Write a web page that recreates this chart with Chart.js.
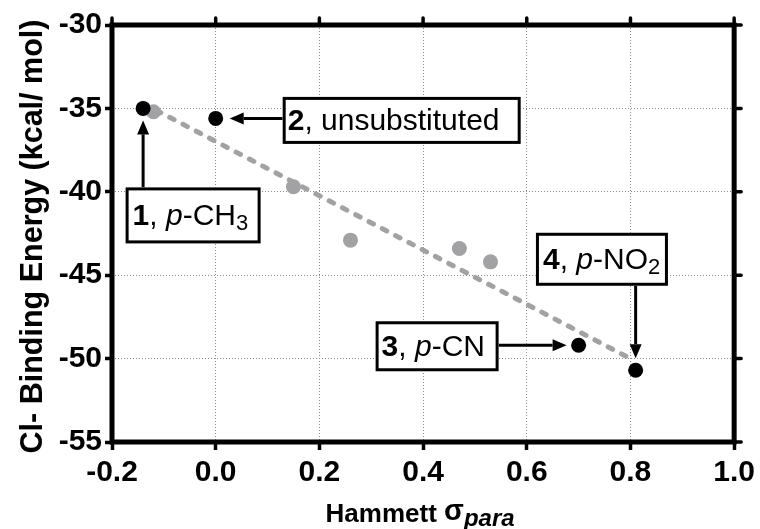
<!DOCTYPE html>
<html>
<head>
<meta charset="utf-8">
<script src="https://cdn.jsdelivr.net/npm/chart.js@4.4.1/dist/chart.umd.min.js"></script>
<style>
  html, body { margin: 0; padding: 0; background: #fff; }
  #wrap { width: 760px; height: 529px; }
</style>
</head>
<body>
<div id="wrap"><canvas id="c" width="760" height="529"></canvas></div>
<script>
// Labelled substituents (black markers): Hammett sigma_para vs Cl- binding energy, kcal/mol
const labelledSigma  = [-0.14, 0.00, 0.70, 0.81];
const labelledEnergy = [-35.0, -35.6, -49.2, -50.7];

// Remaining substituents (grey markers)
const otherSigma  = [-0.12, 0.15, 0.26, 0.47, 0.53];
const otherEnergy = [-35.2, -39.7, -42.9, -43.4, -44.2];

// Linear trend (end points)
const trendSigma  = [-0.14, 0.80];
const trendEnergy = [-34.7, -50.0];

// Axis ticks
const xTickValues = [-0.2, 0.0, 0.2, 0.4, 0.6, 0.8, 1.0];
const xTickLabels = ['-0.2', '0.0', '0.2', '0.4', '0.6', '0.8', '1.0'];
const yTickValues = [-55, -50, -45, -40, -35, -30];
const yTickLabels = ['-55', '-50', '-45', '-40', '-35', '-30'];

// Callout texts for the labelled points: [text, style] runs
const calloutTexts = [
  [['1', 'b'], [', ', ''], ['p', 'i'], ['-CH', ''], ['3', 'sub']],
  [['2', 'b'], [', unsubstituted', '']],
  [['3', 'b'], [', ', ''], ['p', 'i'], ['-CN', '']],
  [['4', 'b'], [', ', ''], ['p', 'i'], ['-NO', ''], ['2', 'sub']]
];

// Callout box placement relative to its point (pixels) and arrow direction
const calloutLayout = [
  { dir: 'up',    dx: 50,     dy: 107, w: 135, h: 56, pad: 7 },
  { dir: 'left',  dx: 186,    dy: 2,   w: 238, h: 47, pad: 5 },
  { dir: 'right', dx: -141.5, dy: 1,   w: 123, h: 50, pad: 6 },
  { dir: 'down',  dx: -33.7,  dy: -111, w: 132, h: 53, pad: 7 }
];

const FONT = '"Liberation Sans", Arial, Helvetica, sans-serif';
const GREY = '#a2a2a4';

const toXY = (xs, ys) => xs.map((v, i) => ({ x: v, y: ys[i] }));

// Frame on all four sides plus the top/right tick marks
const framePlugin = {
  id: 'frame',
  beforeDatasetsDraw(chart) {
    const { ctx, chartArea: a, scales: { x, y } } = chart;
    ctx.save();
    ctx.strokeStyle = '#000';
    ctx.lineCap = 'round';
    ctx.lineWidth = 3.5;
    ctx.beginPath();
    xTickValues.forEach(v => {
      const px = x.getPixelForValue(v);
      ctx.moveTo(px, a.top);
      ctx.lineTo(px, a.top - 7);
    });
    yTickValues.forEach(v => {
      const py = y.getPixelForValue(v);
      ctx.moveTo(a.right, py);
      ctx.lineTo(a.right + 7, py);
    });
    ctx.stroke();
    ctx.lineCap = 'butt';
    ctx.lineWidth = 5;
    ctx.strokeRect(a.left, a.top, a.right - a.left, a.bottom - a.top);
    ctx.restore();
  }
};

function runFont(style, size) {
  if (style === 'b') return 'bold ' + size + 'px ' + FONT;
  if (style === 'i') return 'italic ' + size + 'px ' + FONT;
  return size + 'px ' + FONT;
}

function drawArrow(ctx, x1, y1, x2, y2) {
  const ang = Math.atan2(y2 - y1, x2 - x1);
  const headLen = 14, headHalf = 6;
  const bx = x2 - headLen * Math.cos(ang), by = y2 - headLen * Math.sin(ang);
  ctx.beginPath();
  ctx.moveTo(x1, y1);
  ctx.lineTo(bx, by);
  ctx.stroke();
  ctx.beginPath();
  ctx.moveTo(x2, y2);
  ctx.lineTo(bx + headHalf * Math.sin(ang), by - headHalf * Math.cos(ang));
  ctx.lineTo(bx - headHalf * Math.sin(ang), by + headHalf * Math.cos(ang));
  ctx.closePath();
  ctx.fill();
}

// Callout boxes with arrows pointing at the labelled markers
const calloutPlugin = {
  id: 'callouts',
  afterDatasetsDraw(chart) {
    const { ctx, scales: { x, y } } = chart;
    const gap = 12;
    ctx.save();
    ctx.strokeStyle = '#000';
    ctx.fillStyle = '#000';
    calloutLayout.forEach((c, i) => {
      const px = x.getPixelForValue(labelledSigma[i]);
      const py = y.getPixelForValue(labelledEnergy[i]);
      const cx = px + c.dx, cy = py + c.dy;
      const left = cx - c.w / 2, top = cy - c.h / 2;
      const right = left + c.w, bottom = top + c.h;

      ctx.lineWidth = 3;
      if (c.dir === 'up')    drawArrow(ctx, px, top, px, py + gap);
      if (c.dir === 'down')  drawArrow(ctx, px, bottom, px, py - gap);
      if (c.dir === 'left')  drawArrow(ctx, left, py, px + gap + 2, py);
      if (c.dir === 'right') drawArrow(ctx, right, py, px - gap, py);

      ctx.fillStyle = '#fff';
      ctx.fillRect(left, top, c.w, c.h);
      ctx.lineWidth = 3;
      ctx.strokeRect(left + 1.5, top + 1.5, c.w - 3, c.h - 3);

      ctx.fillStyle = '#000';
      ctx.textBaseline = 'alphabetic';
      ctx.textAlign = 'left';
      let tx = left + c.pad;
      const base = cy + 9.5;
      calloutTexts[i].forEach(([t, s]) => {
        if (s === 'sub') {
          ctx.font = runFont('', 22);
          ctx.fillText(t, tx, base + 5);
        } else {
          ctx.font = runFont(s, 30);
          ctx.fillText(t, tx, base);
        }
        tx += ctx.measureText(t).width;
      });
    });
    ctx.restore();
  }
};

// Axis titles (the x title carries an italic subscript)
const titlePlugin = {
  id: 'axisTitles',
  afterDraw(chart) {
    const { ctx, chartArea: a } = chart;
    ctx.save();
    ctx.fillStyle = '#000';
    ctx.textBaseline = 'alphabetic';

    // y title, rotated
    ctx.save();
    ctx.translate(42, (a.top + a.bottom) / 2 + 3);
    ctx.rotate(-Math.PI / 2);
    ctx.textAlign = 'center';
    ctx.font = 'bold 30.5px ' + FONT;
    ctx.fillText('Cl- Binding Energy (kcal/ mol)', 0, 0);
    ctx.restore();

    // x title: Hammett σ_para
    const runs = [
      { t: 'Hammett ', f: 'bold 26px ' + FONT, dy: 0 },
      { t: 'σ', f: 'bold 29px ' + FONT, dy: -2 },
      { t: 'para', f: 'italic bold 24px ' + FONT, dy: 4 }
    ];
    let total = 0;
    runs.forEach(r => { ctx.font = r.f; r.w = ctx.measureText(r.t).width; total += r.w; });
    let tx = (a.left + a.right) / 2 - total / 2 - 3;
    const base = 521.5;
    ctx.textAlign = 'left';
    runs.forEach(r => {
      ctx.font = r.f;
      ctx.fillText(r.t, tx, base + r.dy);
      tx += r.w;
    });
    ctx.restore();
  }
};

const tickFont = { family: FONT, size: 30, weight: 'bold' };

new Chart(document.getElementById('c'), {
  type: 'scatter',
  data: {
    datasets: [
      {
        label: 'labelled',
        data: toXY(labelledSigma, labelledEnergy),
        backgroundColor: '#000',
        borderWidth: 0,
        pointRadius: 7.5,
        order: 0
      },
      {
        label: 'others',
        data: toXY(otherSigma, otherEnergy),
        backgroundColor: GREY,
        borderWidth: 0,
        pointRadius: 7.5,
        order: 1
      },
      {
        label: 'trend',
        type: 'line',
        data: toXY(trendSigma, trendEnergy),
        borderColor: GREY,
        borderWidth: 5,
        borderDash: [5, 10],
        borderCapStyle: 'round',
        pointRadius: 0,
        fill: false,
        order: 2
      }
    ]
  },
  options: {
    responsive: false,
    animation: false,
    devicePixelRatio: 1,
    layout: { padding: { top: 25, right: 24, left: 0, bottom: 0 } },
    plugins: { legend: { display: false }, tooltip: { enabled: false } },
    scales: {
      x: {
        type: 'linear',
        min: -0.2,
        max: 1.0,
        afterBuildTicks: s => { s.ticks = xTickValues.map(v => ({ value: v })); },
        afterFit: s => { s.height = 87; },
        ticks: {
          font: tickFont,
          color: '#000',
          padding: 5,
          maxRotation: 0,
          callback: (v, i) => xTickLabels[i]
        },
        grid: {
          color: '#8c8c8c',
          lineWidth: 1,
          drawTicks: true,
          tickLength: 8,
          tickWidth: 3.5,
          tickColor: '#000'
        },
        border: { display: false, dash: [1, 2] }
      },
      y: {
        type: 'linear',
        min: -55,
        max: -30,
        afterBuildTicks: s => { s.ticks = yTickValues.map(v => ({ value: v })); },
        afterFit: s => { s.width = 112; },
        ticks: {
          font: tickFont,
          color: '#000',
          padding: 3,
          callback: (v, i) => yTickLabels[i]
        },
        grid: {
          color: '#8c8c8c',
          lineWidth: 1,
          drawTicks: true,
          tickLength: 7,
          tickWidth: 3.5,
          tickColor: '#000'
        },
        border: { display: false, dash: [1, 2] }
      }
    }
  },
  plugins: [framePlugin, calloutPlugin, titlePlugin]
});
</script>
</body>
</html>
